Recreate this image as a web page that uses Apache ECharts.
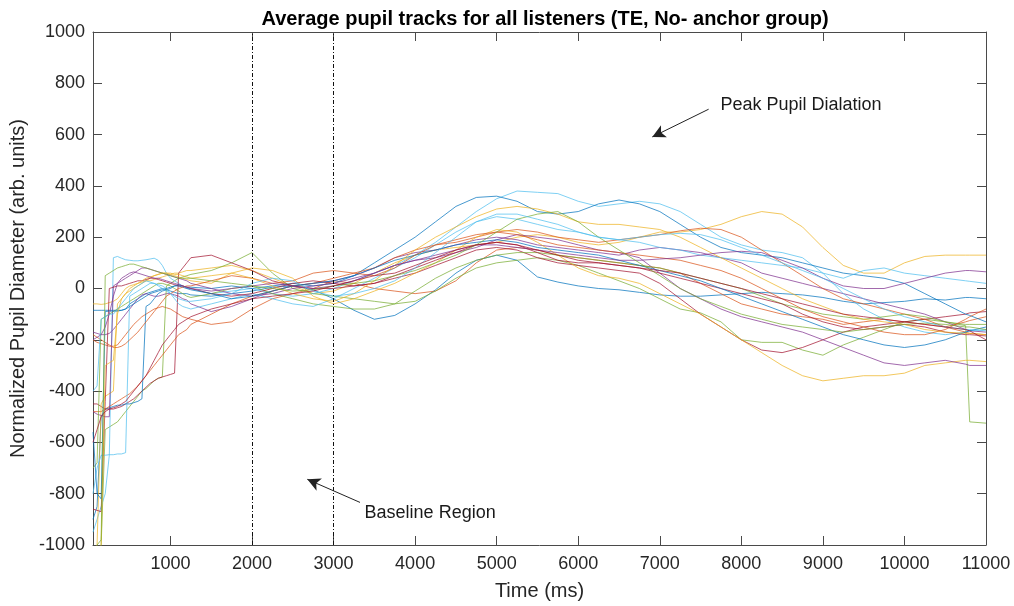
<!DOCTYPE html>
<html>
<head>
<meta charset="utf-8">
<script src="https://cdn.jsdelivr.net/npm/echarts@6/dist/echarts.min.js"></script>
<style>
  html, body { margin: 0; padding: 0; background: #fff; }
  #chart { width: 1014px; height: 606px; }
</style>
</head>
<body>
<div id="chart"></div>
<script>
// Sample times (ms): dense while the tracker settles, then every 250 ms
const times = [
  50,100,150,200,250,300,350,400,450,500,550,600,650,700,750,800,850,900,950,1000,1050,1100,1150,1200,
  1250,1500,1750,2000,2250,2500,2750,3000,3250,3500,3750,4000,4250,4500,4750,5000,5250,5500,5750,6000,
  6250,6500,6750,7000,7250,7500,7750,8000,8250,8500,8750,9000,9250,9500,9750,10000,10250,10500,10750,
  10800,11000
];

// Average pupil track of each listener (arb. units)
const p01 = [-85,-85,-85,-85,-85,-85,-85,-85,-80,-60,-50,-40,-30,-20,-15,-10,-5,0,-5,-10,-15,-20,-20,-20, -25,-30,-20,-10,5,10,-5,-40,-85,-120,-105,-60,-5,60,110,130,110,45,25,10,0,-5,-15,-25,-30,-30,-25,-20,-15,-20,-25,-35,-50,-60,-55,-50,-40,-45,-35, -35,-40];
const p02 = [-200,-210,-215,-220,-225,-225,-220,-200,-180,-160,-140,-125,-110,-100,-90,-80,-75,-70,-75,-80,-90,-100,-110,-115, -120,-140,-130,-80,-40,-20,0,30,20,0,-10,-20,-10,30,100,150,160,150,130,120,110,100,90,80,60,20,-20,-60,-80,-100,-110,-120,-140,-130,-120,-130,-140,-150,-130, -125,-110];
const p03 = [-60,-60,-62,-60,-55,-50,-40,-20,0,10,15,20,25,30,30,35,40,45,50,55,60,60,65,70, 70,80,90,70,40,10,-20,-10,20,60,100,130,150,160,170,180,200,210,200,180,170,180,200,220,220,230,250,280,300,290,240,160,90,60,60,100,125,130,130, 130,130];
const p04 = [-170,-175,-180,-180,-175,-160,-140,-120,-100,-80,-60,-40,-25,-20,-25,-30,-30,-25,-20,-20,-25,-30,-40,-45, -60,-90,-70,-40,-10,10,20,30,50,80,120,140,150,170,190,200,190,170,160,150,140,130,150,160,150,140,120,100,60,40,20,0,-20,-40,-60,-80,-100,-130,-160, -165,-170];
const p05 = [-1050,-1040,-1000,-550,-540,-530,-520,-500,-480,-460,-440,-420,-400,-390,-375,-360,-350,-345,10,20,30,40,45,50, 55,70,100,140,60,0,-20,-30,-40,-50,-60,-50,-10,40,80,100,110,120,110,90,60,30,0,-40,-80,-95,-130,-200,-210,-210,-240,-260,-220,-190,-160,-130,-120,-130,-145, -520,-525];
const p06 = [-950,-900,-850,-800,-650,120,125,118,112,110,108,108,110,112,115,118,110,90,60,40,30,20,10,0, 0,-20,-10,0,-20,-30,-20,0,30,60,90,130,180,240,300,350,380,375,370,340,320,330,340,330,300,250,200,170,150,140,120,60,-20,-80,-120,-150,-170,-180,-170, -165,-160];
const p07 = [-450,-450,-460,-470,-470,-470,-465,-460,-450,-440,-430,-415,-400,-385,-370,-360,-350,-345,-340,-335,-330,60,80,100, 120,130,100,70,30,10,0,0,10,20,40,60,90,120,150,160,150,120,100,90,80,70,60,20,-40,-100,-150,-200,-240,-250,-230,-200,-170,-150,-140,-130,-120,-110,-100, -95,-90];
const p08 = [-900,-850,-500,-470,-465,-460,-455,-455,-450,-450,-445,-440,-430,-70,-60,-40,-20,-10,-5,0,10,15,10,5, 5,0,10,0,10,20,10,20,50,100,150,200,260,320,355,360,340,300,290,300,330,345,330,300,250,200,160,140,130,120,100,80,60,50,40,20,-20,-60,-100, -105,-130];
const p09 = [-480,-480,-480,-470,-460,-450,-440,-430,-420,-410,-395,-380,-360,-340,-320,-300,-280,-260,-240,-220,-200,-180,-170,-160, -140,-100,-60,-30,-10,10,20,40,60,80,120,150,170,180,200,220,230,220,200,190,180,190,200,210,225,235,230,200,150,100,50,0,-40,-60,-80,-100,-120,-150,-170, -175,-180];
const p10 = [-1050,-1000,-450,-420,-410,-400,-60,-40,-20,-10,0,10,20,30,40,50,55,60,60,55,50,45,40,35, 30,20,60,80,70,40,-30,-60,-40,-10,20,60,100,150,200,230,220,180,130,80,50,40,20,-20,-60,-100,-150,-200,-250,-300,-340,-360,-350,-340,-340,-330,-300,-290,-280, -280,-285];
const p11 = [-480,-490,-495,-500,-500,10,20,30,40,50,60,70,80,80,75,70,65,60,55,50,45,40,35,30, 20,0,-20,-30,-20,0,10,20,40,60,90,110,120,140,160,190,210,200,190,170,150,140,120,60,0,-40,-80,-110,-130,-150,-170,-200,-230,-260,-290,-300,-290,-280,-295, -300,-300];
const p12 = [-700,-680,-120,-110,-100,-90,-80,-70,-60,-50,-40,-30,-20,-10,0,10,20,20,15,10,0,-10,-20,-30, -35,-20,0,10,-20,-40,-60,-70,-80,-80,-60,-10,40,80,110,130,140,140,130,120,110,100,90,80,60,40,20,0,-30,-60,-80,-100,-110,-120,-110,-100,-110,-130,-140, -140,-140];
const p13 = [-800,-700,-650,-650,-648,-648,-645,-645,-640,-30,-20,-10,0,10,20,20,15,10,0,-20,-40,-60,-70,-75, -80,-60,-40,-20,-40,-60,-70,-40,0,40,80,120,170,220,260,280,270,250,230,220,200,190,180,160,150,130,120,110,100,90,80,60,40,70,80,60,50,40,30, 28,20];
const p14 = [-860,-865,-870,-440,0,5,10,10,15,20,25,30,30,35,40,40,35,30,25,20,15,10,10,5, 0,-20,-30,-20,0,20,30,20,10,20,50,80,110,140,170,180,170,140,110,100,100,90,80,60,40,20,0,-20,-40,-60,-100,-130,-150,-160,-150,-140,-150,-170,-180, -180,-185];
const p15 = [-560,-800,-820,-90,-88,-88,-88,-85,-80,-70,-60,-50,-40,-30,-20,-15,-10,-5,0,5,10,10,5,0, -5,-20,-40,-30,-10,10,20,30,50,80,110,130,150,170,180,190,180,160,150,140,130,110,90,70,50,30,0,-30,-60,-90,-120,-150,-180,-200,-220,-230,-220,-200,-170, -165,-150];
const p16 = [-180,-190,-200,-210,-220,-230,-230,-225,-215,-200,-185,-170,-150,-130,-110,-90,-70,-50,-30,-20,-10,0,5,10, 10,30,50,40,20,30,60,70,60,50,80,130,170,190,210,220,210,190,170,160,150,140,130,120,110,90,70,40,0,-40,-80,-110,-130,-150,-170,-180,-180,-160,-120, -110,-80];
const p17 = [-1050,-1050,-1000,-300,-290,-280,-100,-40,-20,0,10,20,30,40,45,50,55,60,60,60,55,55,50,45, 40,50,60,40,10,-20,-40,-50,-20,30,90,150,200,240,280,310,320,310,290,260,250,250,240,230,200,160,120,80,40,0,-40,-70,-100,-120,-130,-140,-160,-170,-175, -175,-180];
const p18 = [-200,-190,-180,-150,-100,-30,20,40,50,60,65,60,55,50,45,40,40,35,30,25,20,15,10,5, 0,-10,0,10,20,10,0,10,30,60,90,110,130,150,170,170,160,150,140,130,120,110,110,115,120,130,140,145,140,110,80,40,10,0,0,20,40,60,70, 70,65];
const p19 = [-1050,-1000,-980,50,60,70,80,85,90,95,95,90,85,80,75,70,65,60,55,50,45,40,40,40, 40,30,20,10,0,-10,-5,10,20,30,50,70,100,130,170,220,270,290,300,260,200,150,100,50,0,-40,-70,-100,-120,-140,-150,-160,-170,-160,-150,-140,-135,-140,-150, -150,-160];
const p20 = [-400,-380,-120,-110,-100,-100,-80,-60,-40,-20,0,10,20,30,25,20,10,0,-10,-20,-30,-40,-45,-50, -50,-40,-20,20,40,30,-10,-30,-20,0,30,80,140,200,260,290,290,270,250,220,200,190,200,210,215,210,190,160,130,100,70,40,0,-40,-80,-110,-130,-150,-160, -160,-165];
const p21 = [-600,-550,-500,-480,-470,-465,-460,-450,-440,-420,-400,-380,-360,-340,-310,-280,-250,-220,-200,-180,-160,-140,-130,-120, -110,-80,-60,-40,-30,-20,-10,10,30,50,60,90,120,150,170,180,170,150,130,110,100,90,80,70,60,40,20,0,-20,-40,-60,-80,-100,-110,-120,-130,-140,-150,-160, -165,-200];

const listeners = [p01,p02,p03,p04,p05,p06,p07,p08,p09,p10,p11,p12,p13,p14,p15,p16,p17,p18,p19,p20,p21];

// Axis ticks
const xTicks = [1000,2000,3000,4000,5000,6000,7000,8000,9000,10000,11000];
const baselineBounds = [2000, 3000];

// Annotations: text anchor and arrow (tail -> head) in data units
const peakText = { name: 'Peak Pupil Dialation', at: [7738, 716] };
const peakArrow = [[7599, 699], [6908, 591]];
const baseText = { name: 'Baseline Region', at: [3374, -877] };
const baseArrow = [[3324, -834], [2678, -744]];

// Line colour cycle
const palette = ['#0072BD','#D95319','#EDB120','#7E2F8E','#77AC30','#4DBEEE','#A2142F'];

const FONT = '"Liberation Sans", Arial, Helvetica, sans-serif';
const INK = '#262626';
const FRAME = '#4a4a4a';
const plain = v => String(v);

const chart = echarts.init(document.getElementById('chart'), null, { renderer: 'canvas' });

const trackSeries = listeners.map((vals, i) => ({
  type: 'line',
  name: 'Listener ' + (i + 1),
  data: vals.map((v, k) => [times[k], v]),
  showSymbol: false,
  symbol: 'none',
  clip: true,
  lineStyle: { width: 1, color: palette[i % palette.length], opacity: 0.72 },
  emphasis: { disabled: true },
  silent: true,
  z: 2
}));

const frameAxis = {
  axisLine: { show: true, onZero: false, lineStyle: { color: FRAME, width: 1 } },
  splitLine: { show: false }
};

const option = {
  animation: false,
  backgroundColor: '#fff',
  title: {
    text: 'Average pupil tracks for all listeners (TE, No- anchor group)',
    left: 540,
    textAlign: 'center',
    top: 4,
    textStyle: { fontFamily: FONT, fontSize: 20, fontWeight: 'bold', color: '#000' }
  },
  grid: { left: 93, right: 28, top: 32, bottom: 58, containLabel: false },
  xAxis: [
    Object.assign({
      type: 'value', min: 50, max: 11000, position: 'bottom',
      name: 'Time (ms)', nameLocation: 'middle', nameGap: 36,
      nameTextStyle: { fontFamily: FONT, fontSize: 20, color: INK },
      axisTick: { show: true, inside: true, length: 9, customValues: xTicks, lineStyle: { color: FRAME } },
      axisLabel: { show: true, customValues: xTicks, formatter: plain, fontFamily: FONT, fontSize: 18, color: INK, margin: 10 }
    }, frameAxis),
    Object.assign({
      type: 'value', min: 50, max: 11000, position: 'top',
      axisTick: { show: true, inside: true, length: 9, customValues: xTicks, lineStyle: { color: FRAME } },
      axisLabel: { show: false }
    }, frameAxis)
  ],
  yAxis: [
    Object.assign({
      type: 'value', min: -1000, max: 1000, interval: 200, position: 'left',
      name: 'Normalized Pupil Diameter (arb. units)', nameLocation: 'middle', nameGap: 57, nameRotate: 90,
      nameTextStyle: { fontFamily: FONT, fontSize: 20, color: INK },
      axisTick: { show: true, inside: true, length: 9, lineStyle: { color: FRAME } },
      axisLabel: { show: true, formatter: plain, fontFamily: FONT, fontSize: 18, color: INK, margin: 8 }
    }, frameAxis),
    Object.assign({
      type: 'value', min: -1000, max: 1000, interval: 200, position: 'right',
      axisTick: { show: true, inside: true, length: 9, lineStyle: { color: FRAME } },
      axisLabel: { show: false }
    }, frameAxis)
  ],
  series: trackSeries.concat([
    {
      // baseline window boundaries
      type: 'line',
      data: [],
      silent: true,
      markLine: {
        silent: true,
        symbol: ['none', 'none'],
        label: { show: false },
        lineStyle: { color: '#111', width: 1, type: [4, 2, 1, 2] },
        data: baselineBounds.map(x => ({ xAxis: x }))
      },
      z: 3
    },
    {
      // annotation arrows
      type: 'line',
      data: [],
      silent: true,
      markLine: {
        silent: true,
        symbol: ['none', 'arrow'],
        symbolSize: [10, 13],
        label: { show: false },
        lineStyle: { color: '#222', width: 1, type: 'solid' },
        data: [
          [{ coord: peakArrow[0] }, { coord: peakArrow[1] }],
          [{ coord: baseArrow[0] }, { coord: baseArrow[1] }]
        ]
      },
      z: 4
    },
    {
      // annotation texts
      type: 'scatter',
      silent: true,
      symbolSize: 1,
      itemStyle: { color: 'rgba(0,0,0,0)' },
      label: {
        show: true, position: 'right', distance: 0, formatter: '{b}',
        fontFamily: FONT, fontSize: 18, color: '#1a1a1a', opacity: 1
      },
      data: [peakText, baseText].map(t => ({ name: t.name, value: t.at })),
      z: 4
    }
  ])
};

chart.setOption(option);
</script>
</body>
</html>
